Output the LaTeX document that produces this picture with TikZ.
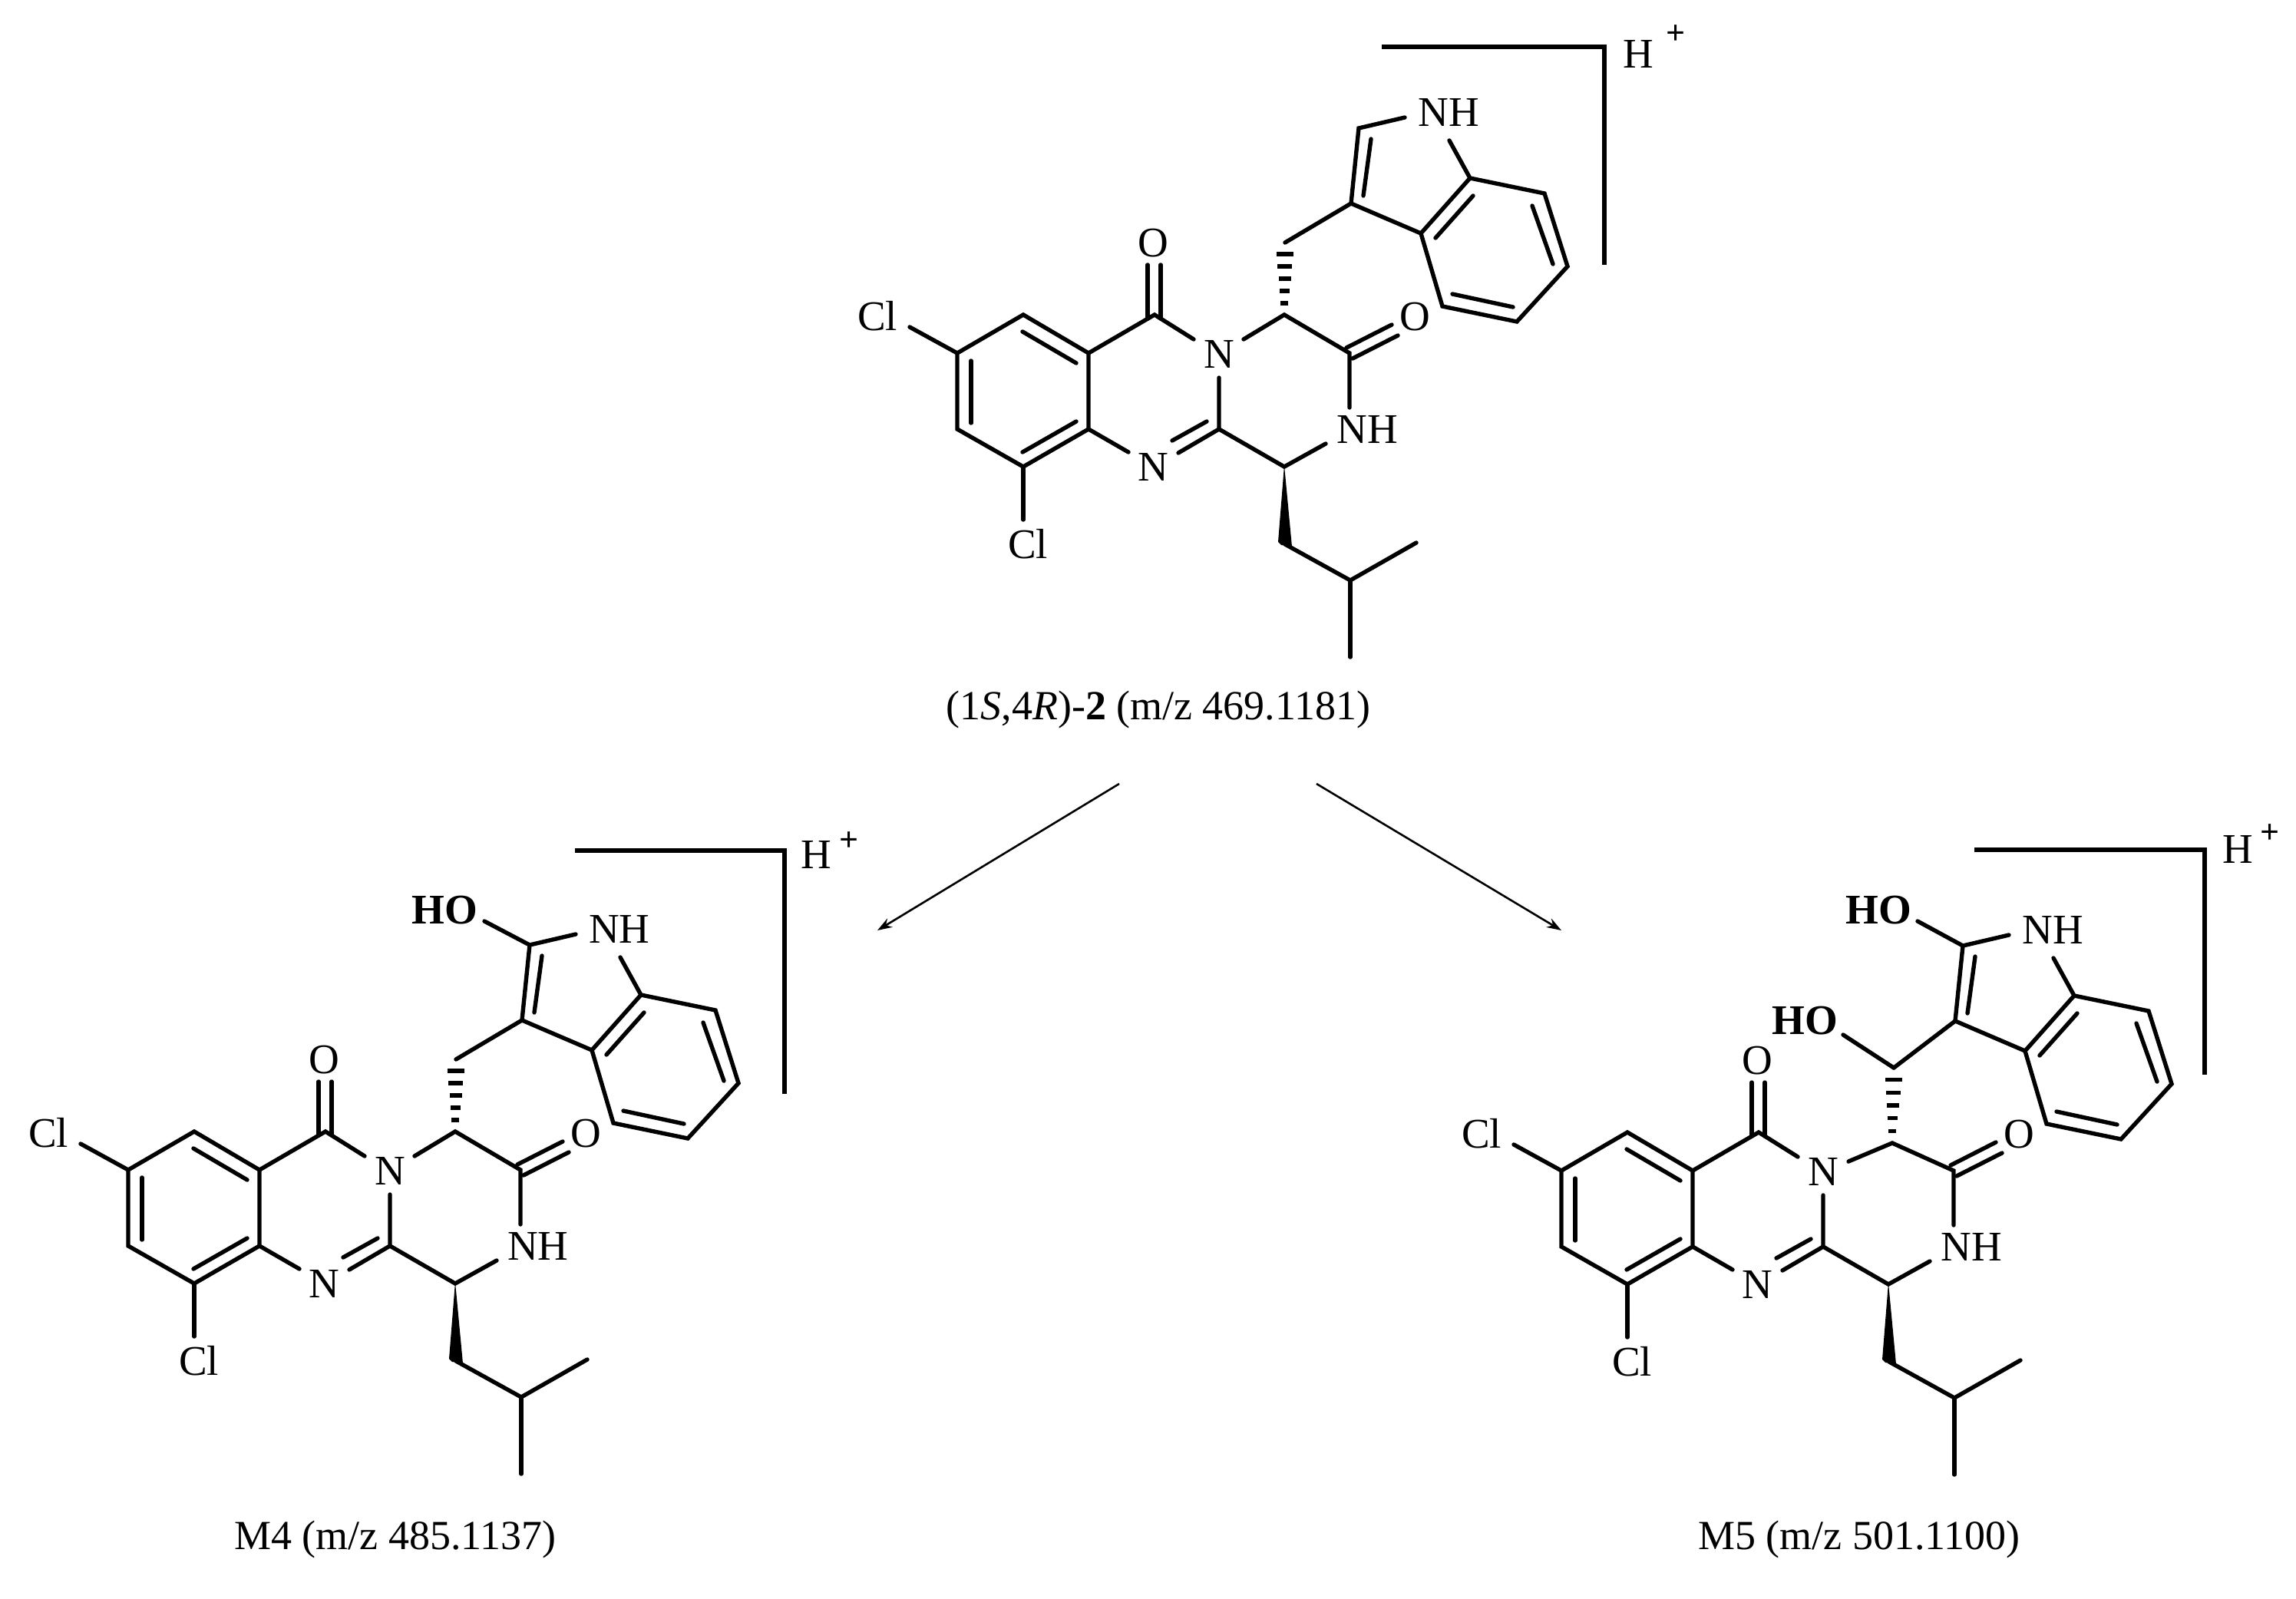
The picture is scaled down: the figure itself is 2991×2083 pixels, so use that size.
\documentclass[tikz,border=0pt]{standalone}
\usepackage{fontspec}
\setmainfont{Liberation Serif}
\usetikzlibrary{calc,arrows.meta}
\tikzset{
  every picture/.style={x=1pt,y=-1pt},
  bond/.style={line width=5.4pt,line cap=round,line join=miter,draw=black},
  bracketline/.style={line width=6pt,line cap=butt,line join=miter,draw=black},
  reaction/.style={line width=2.6pt,draw=black,-{Stealth[length=19pt,width=13pt]}},
  atom/.style={inner sep=0pt,text height=36pt,text depth=0pt,font=\fontsize{55}{60}\selectfont},
  boldatom/.style={atom,font=\fontsize{55}{60}\selectfont\bfseries},
  charge/.style={inner sep=0pt,font=\fontsize{44}{50}\selectfont\bfseries},
  caption/.style={inner sep=0pt,text height=36pt,text depth=10pt,font=\fontsize{54}{60}\selectfont},
}
% #1 prefix, #2 C4 position, #3 side-chain carbon position, #4 free end of the N--C4 bond
\newcommand{\core}[4]{%
  \coordinate (#1a1) at (1247,460);
  \coordinate (#1a2) at (1333,410);
  \coordinate (#1a3) at (1418,460);
  \coordinate (#1a4) at (1418,559);
  \coordinate (#1a5) at (1333,608);
  \coordinate (#1a6) at (1247,559);
  \coordinate (#1co) at (1504,410);
  \coordinate (#1cim) at (1588,559);
  \coordinate (#1c3) at (1673,608);
  \coordinate (#1c4) at #2;
  \coordinate (#1ch) at #3;
  \coordinate (#1c5) at (1758,460);
  \coordinate (#1ib) at (1674,709);
  \coordinate (#1ic) at (1759,756);
  \coordinate (#1im) at (1845,707);
  \coordinate (#1il) at (1759,856);
  \coordinate (#1i3) at (1760,265);
  \coordinate (#1i2) at (1770,167);
  \coordinate (#1i3a) at (1851,304);
  \coordinate (#1i7a) at (1915,232);
  \coordinate (#1i7) at (2012,252);
  \coordinate (#1i6) at (2042,347);
  \coordinate (#1i5) at (1976,419);
  \coordinate (#1i4) at (1879,399);
  % atom labels
  \node[atom] (#1clA) at (1143,412) {Cl};
  \node[atom] (#1clB) at (1339,709) {Cl};
  \node[atom] (#1oA) at (1502,316) {O};
  \node[atom] (#1oB) at (1843,412) {O};
  \node[atom] (#1nA) at (1588,461) {N};
  \node[atom] (#1nB) at (1502,608) {N};
  \node[atom] (#1nh) at (1781,559) {NH};
  \node[atom] (#1ni) at (1887,146) {NH};
  % benzo ring
  \draw[bond] (#1a1) -- (#1a2) -- (#1a3) -- (#1a4) -- (#1a5) -- (#1a6) -- cycle;
  \draw[bond] (1265,470) -- (1265,551);
  \draw[bond] (1332,432) -- (1402,473);
  \draw[bond] (1332,589) -- (1402,549);
  \draw[bond] (#1a1) -- (1185,426);
  \draw[bond] (#1a5) -- (1333,677);
  % central rings
  \draw[bond] (#1a3) -- (#1co) -- (1555,442);
  \draw[bond] (1495,415) -- (1495,345);
  \draw[bond] (1512,415) -- (1512,345);
  \draw[bond] (#1a4) -- (1470,589);
  \draw[bond] (1535,590) -- (#1cim) -- (1588,492);
  \draw[bond] (1527,574) -- (1572,549);
  \draw[bond] (#1cim) -- (#1c3) -- (1727,578);
  \draw[bond] #4 -- (#1c4) -- (#1c5) -- (1758,531);
  \draw[bond] (1754,453) -- (1813,423);
  \draw[bond] (1762,467) -- (1821,437);
  % hashed bond
  \foreach \t/\w in {.16/10,.33/13,.5/16,.67/19,.84/22}{
    \draw[line width=5.5pt,draw=black] ($(#1c4)!\t!(#1ch)+(-\w/2,0)$) -- ($(#1c4)!\t!(#1ch)+(\w/2,0)$);
  }
  % wedge and isobutyl
  \fill[black] (1673,606) -- (1665,706) -- (1669,710) -- (1683,712) -- cycle;
  \draw[bond] (#1ib) -- (#1ic) -- (#1im);
  \draw[bond] (#1ic) -- (#1il);
  % indole
  \draw[bond] (#1ch) -- (#1i3) -- (#1i2) -- (1830,153);
  \draw[bond] (1888,183) -- (#1i7a) -- (#1i7) -- (#1i6) -- (#1i5) -- (#1i4) -- (#1i3a) -- (#1i3);
  \draw[bond] (#1i3a) -- (#1i7a);
  \draw[bond] (1786,181) -- (1776,255);
  \draw[bond] (1870,310) -- (1919,255);
  \draw[bond] (1996,268) -- (2023,344);
  \draw[bond] (1892,383) -- (1971,400);
}
\begin{document}
\begin{tikzpicture}
  \useasboundingbox (0,0) rectangle (2991,2083);
  % top molecule
  \core{T}{(1673,410)}{(1674,316)}{(1620,442)}
  \coordinate (Tb0) at (1800,61);
  \coordinate (Tb1) at (2090,61);
  \coordinate (Tb2) at (2090,345);
  \draw[bracketline] (Tb0) -- (Tb1) -- (Tb2);
  \node[atom] (Th) at (2134,70) {H};
  \node[charge] (Tp) at (2183,45) {+};
  \node[caption] (Tcap) at (1509,924) {(1{\itshape S},4{\itshape R})-{\bfseries 2} (m/z 469.1181)};
  % arrows
  \coordinate (arLs) at (1458,1021);
  \coordinate (arLe) at (1143,1212);
  \coordinate (arRs) at (1715,1021);
  \coordinate (arRe) at (2034,1212);
  \draw[reaction] (arLs) -- (arLe);
  \draw[reaction] (arRs) -- (arRe);
  % M4
  \begin{scope}[shift={(-1080,1064)}]
    \core{L}{(1673,410)}{(1674,316)}{(1620,442)}
  \end{scope}
  \node[boldatom] (Lho) at (579,1185) {HO};
  \coordinate (Lhoe) at (631,1200);
  \draw[bond] (Li2) -- (Lhoe);
  \coordinate (Lb0) at (749,1108);
  \coordinate (Lb1) at (1022,1108);
  \coordinate (Lb2) at (1022,1425);
  \draw[bracketline] (Lb0) -- (Lb1) -- (Lb2);
  \node[atom] (Lh) at (1063,1113) {H};
  \node[charge] (Lp) at (1106,1096) {+};
  \node[caption] (Lcap) at (515,2005) {M4 (m/z 485.1137)};
  % M5
  \begin{scope}[shift={(787,1065)}]
    \core{R}{(1678,424)}{(1680,326)}{(1621,448)}
  \end{scope}
  \node[boldatom] (Rhoa) at (2447,1185) {HO};
  \coordinate (Rhoae) at (2498,1200);
  \draw[bond] (Ri2) -- (Rhoae);
  \node[boldatom] (Rhob) at (2351,1329) {HO};
  \coordinate (Rhobe) at (2401,1348);
  \draw[bond] (Rch) -- (Rhobe);
  \coordinate (Rb0) at (2572,1107);
  \coordinate (Rb1) at (2872,1107);
  \coordinate (Rb2) at (2872,1400);
  \draw[bracketline] (Rb0) -- (Rb1) -- (Rb2);
  \node[atom] (Rh) at (2915,1106) {H};
  \node[charge] (Rp) at (2957,1086) {+};
  \node[caption] (Rcap) at (2422,2005) {M5 (m/z 501.1100)};
\end{tikzpicture}
\end{document}
